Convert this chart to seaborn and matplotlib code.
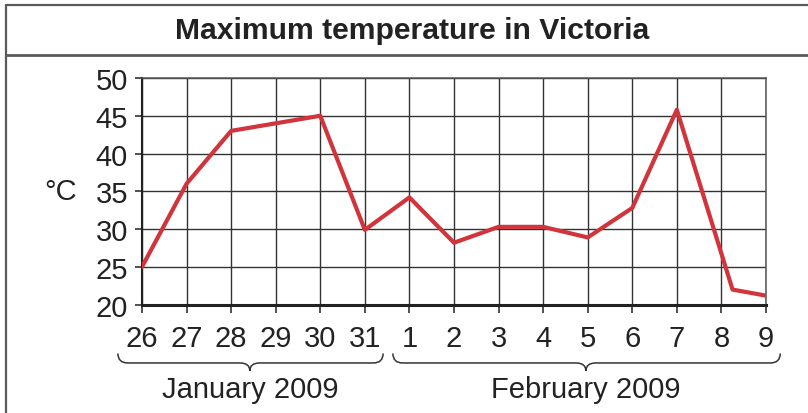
import numpy as np
import pandas as pd
import matplotlib
matplotlib.use("Agg")
import matplotlib.pyplot as plt
from matplotlib.path import Path
from matplotlib.patches import PathPatch
from matplotlib.lines import Line2D
import matplotlib.transforms as mtransforms
import seaborn as sns

# Data
day_labels = ['26', '27', '28', '29', '30', '31', '1', '2', '3', '4', '5', '6', '7', '8', '9']
day_pos = [0, 1, 2, 3, 4, 5, 6, 7, 8, 9, 10, 11, 12, 13.25, 14]
max_temp = [25, 36, 43, 44, 45, 29.9, 34.2, 28.2, 30.3, 30.3, 28.9, 32.8, 45.8, 22, 21.2]
y_ticks = [20, 25, 30, 35, 40, 45, 50]
months = ['January 2009', 'February 2009']
month_spans = [(-0.54, 5.41, 2.42), (5.63, 14.32, 9.96)]  # brace start, end, middle

df = pd.DataFrame({'pos': day_pos, 'temp': max_temp})

sns.set_style('white')
plt.rcParams['font.family'] = ['Liberation Sans', 'DejaVu Sans']

fig = plt.figure(figsize=(8.08, 4.14), dpi=100)
ax = fig.add_axes([0.1757, 0.2616, 0.7723, 0.5476])

grid_col = '#333333'
for p in range(len(day_labels)):
    ax.axvline(p, color=grid_col, lw=1.0, zorder=1)
for t in y_ticks:
    ax.axhline(t, color=grid_col, lw=1.0, zorder=1)

sns.lineplot(data=df, x='pos', y='temp', sort=False, color='#d2343b', linewidth=3, ax=ax, zorder=3)

ax.set_xlim(0, 14)
ax.set_ylim(20, 50)
ax.set_xticks(range(len(day_labels)))
ax.set_xticklabels(day_labels)
ax.set_yticks(y_ticks)
ax.set_xlabel('')
ax.set_ylabel('')
ax.tick_params(axis='x', direction='out', length=6, width=1.1, pad=8, labelsize=21, colors='#222222', bottom=True)
ax.tick_params(axis='y', direction='out', length=5, width=1.1, pad=5, labelsize=21, colors='#222222', left=True)

for side in ['left', 'bottom']:
    ax.spines[side].set_color('#222222')
ax.spines['left'].set_linewidth(1.5)
ax.spines['bottom'].set_linewidth(2.2)
for side in ['top', 'right']:
    ax.spines[side].set_color('#555555')
    ax.spines[side].set_linewidth(1.1)

# degree label
ax.text(-0.104, 15 / 30, '°C', transform=ax.transAxes, fontsize=21, color='#222222',
        ha='right', va='center')

# braces below the day labels
trans = mtransforms.blended_transform_factory(ax.transData, ax.transAxes)
y_end, y_line, y_tip = -0.215, -0.257, -0.292
r = 0.22
for (x0, x1, xm), name in zip(month_spans, months):
    verts = [(x0, y_end), (x0, y_line), (x0 + r, y_line),
             (xm - r, y_line), (xm, y_line), (xm, y_tip),
             (xm, y_line), (xm + r, y_line),
             (x1 - r, y_line), (x1, y_line), (x1, y_end)]
    codes = [Path.MOVETO, Path.CURVE3, Path.CURVE3,
             Path.LINETO, Path.CURVE3, Path.CURVE3,
             Path.CURVE3, Path.CURVE3,
             Path.LINETO, Path.CURVE3, Path.CURVE3]
    patch = PathPatch(Path(verts, codes), transform=trans, fill=False,
                      edgecolor='#333333', lw=1.1, clip_on=False)
    ax.add_patch(patch)
    ax.text(xm, -0.37, name, transform=trans, ha='center', va='center',
            fontsize=21, color='#222222')

# title box
fig.text(0.51, 1 - 31 / 414, 'Maximum temperature in Victoria', ha='center', va='center',
         fontsize=21.7, fontweight='bold', color='#222222')
frame_col = '#5a5a5a'
fig.add_artist(Line2D([0.008, 0.008], [0, 1 - 5.7 / 414], color=frame_col, lw=1.6))
fig.add_artist(Line2D([0.008, 1], [1 - 5.7 / 414, 1 - 5.7 / 414], color=frame_col, lw=1.6))
fig.add_artist(Line2D([0.008, 1], [1 - 55.7 / 414, 1 - 55.7 / 414], color=frame_col, lw=2))

fig.savefig('out.png', dpi=100)
